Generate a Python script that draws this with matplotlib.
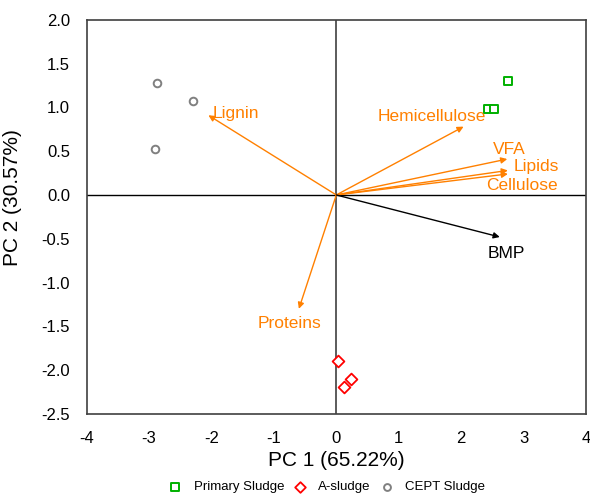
import matplotlib.pyplot as plt
import numpy as np

plt.rcParams['font.family'] = ['Liberation Sans', 'DejaVu Sans']
plt.rcParams['axes.unicode_minus'] = False

# sample scores
primary_x = [2.75, 2.43, 2.52]
primary_y = [1.30, 0.98, 0.98]
asludge_x = [0.02, 0.23, 0.13]
asludge_y = [-1.90, -2.10, -2.19]
cept_x = [-2.88, -2.30, -2.90]
cept_y = [1.28, 1.07, 0.53]

# loadings
vars_ = ['Lignin', 'Hemicellulose', 'VFA', 'Lipids', 'Cellulose', 'Proteins', 'BMP']
load_x = [-2.05, 2.04, 2.74, 2.75, 2.75, -0.60, 2.62]
load_y = [0.91, 0.78, 0.41, 0.28, 0.24, -1.30, -0.48]
label_x = [-1.98, 1.53, 2.78, 2.84, 2.40, -0.75, 2.73]
label_y = [0.93, 0.89, 0.52, 0.33, 0.11, -1.47, -0.67]
label_ha = ['left', 'center', 'center', 'left', 'left', 'center', 'center']

orange = '#FF8000'

fig = plt.figure(figsize=(5.9, 4.94), dpi=100)
ax = fig.add_axes([0.147, 0.162, 0.846, 0.798])

ax.axhline(0, color='black', lw=1, zorder=1)
ax.axvline(0, color='#404040', lw=1.2, zorder=1)

for i, v in enumerate(vars_):
    c = 'black' if v == 'BMP' else orange
    ax.annotate('', xy=(load_x[i], load_y[i]), xytext=(0, 0),
                arrowprops=dict(arrowstyle='-|>', color=c, lw=1.0,
                                mutation_scale=9, shrinkA=0, shrinkB=0))
    ax.text(label_x[i], label_y[i], v, color=c, fontsize=12.5,
            ha=label_ha[i], va='center')

ax.scatter(primary_x, primary_y, marker='s', s=38, facecolors='white',
           edgecolors='#00B000', linewidths=1.4, label='Primary Sludge', zorder=3)
ax.scatter(asludge_x, asludge_y, marker='D', s=36, facecolors='white',
           edgecolors='red', linewidths=1.3, label='A-sludge', zorder=3)
ax.scatter(cept_x, cept_y, marker='o', s=30, facecolors='white',
           edgecolors='#808080', linewidths=1.4, label='CEPT Sludge', zorder=3)

ax.set_xlim(-4, 4)
ax.set_ylim(-2.5, 2.0)
ax.set_xticks(np.arange(-4, 5, 1))
ax.set_yticks(np.arange(-2.5, 2.01, 0.5))
ax.set_yticklabels(['%.1f' % t for t in np.arange(-2.5, 2.01, 0.5)])
ax.tick_params(length=0, labelsize=12, pad=12)
for s in ax.spines.values():
    s.set_color('#404040')
    s.set_linewidth(1.2)

ax.set_xlabel('PC 1 (65.22%)', fontsize=15)
ax.xaxis.set_label_coords(0.5, -0.095)
ax.set_ylabel('PC 2 (30.57%)', fontsize=15)
ax.yaxis.set_label_coords(-0.13, 0.55)

fig.legend(loc='lower center', ncol=3, frameon=False, fontsize=9.5,
           bbox_to_anchor=(0.553, -0.022), handlelength=1.2, handletextpad=0.8,
           columnspacing=0.6, markerscale=0.9)

fig.savefig('out.png', dpi=100)
